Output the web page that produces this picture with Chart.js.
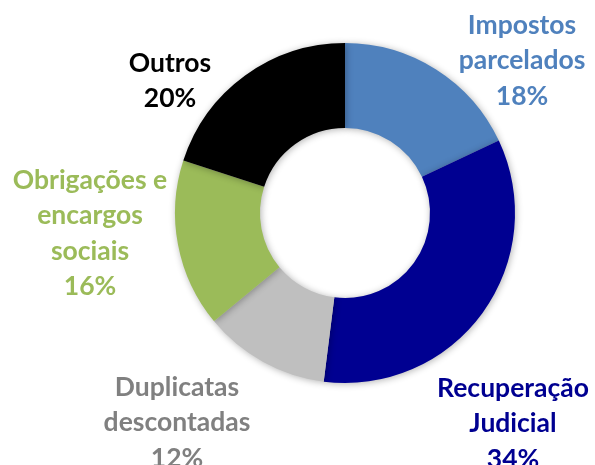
<!DOCTYPE html>
<html>
<head>
<meta charset="utf-8">
<script src="https://cdn.jsdelivr.net/npm/chart.js@4"></script>
<style>
  html, body { margin: 0; padding: 0; background: #fff; }
  #wrap { width: 595px; height: 465px; }
</style>
</head>
<body>
<div id="wrap"><canvas id="chart" width="595" height="465"></canvas></div>
<script>
// data
const categories = ['Impostos parcelados', 'Recuperação Judicial', 'Duplicatas descontadas', 'Obrigações e encargos sociais', 'Outros'];
const shares = [18, 34, 12, 16, 20];

// label text lines and where they sit
const labelLines = [
    ['Impostos', 'parcelados'],
    ['Recuperação', 'Judicial'],
    ['Duplicatas', 'descontadas'],
    ['Obrigações e', 'encargos', 'sociais'],
    ['Outros']
];
const labelPos = [[522, 25], [513, 388], [177, 387], [90, 180], [170, 63]];

const sliceColors = ['#4F81BD', '#000091', '#BFBFBF', '#9BBB59', '#000000'];
const textColors = ['#4F81BD', '#000091', '#808080', '#9BBB59', '#000000'];

const shadowPlugin = {
    id: 'ringShadow',
    beforeDatasetsDraw(chart) {
        const ctx = chart.ctx;
        ctx.save();
        ctx.shadowColor = 'rgba(0,0,0,0.3)';
        ctx.shadowBlur = 7;
        ctx.shadowOffsetX = 1;
        ctx.shadowOffsetY = 1;
    },
    afterDatasetsDraw(chart) {
        chart.ctx.restore();
    }
};

const labelPlugin = {
    id: 'outsideLabels',
    afterDraw(chart) {
        const ctx = chart.ctx;
        ctx.save();
        ctx.font = 'bold 26.5px Lato';
        ctx.textAlign = 'center';
        ctx.textBaseline = 'middle';
        const lineH = 35.5;
        categories.forEach((c, i) => {
            const lines = labelLines[i].concat([shares[i] + '%']);
            ctx.fillStyle = textColors[i];
            lines.forEach((t, j) => {
                ctx.fillText(t, labelPos[i][0], labelPos[i][1] + j * lineH);
            });
        });
        ctx.restore();
    }
};

new Chart(document.getElementById('chart'), {
    type: 'doughnut',
    data: {
        labels: categories,
        datasets: [{
            data: shares,
            backgroundColor: sliceColors,
            borderWidth: 0
        }]
    },
    options: {
        responsive: false,
        animation: false,
        cutout: '50%',
        layout: {
            padding: { left: 175, right: 80, top: 43, bottom: 82 }
        },
        plugins: {
            legend: { display: false },
            tooltip: { enabled: false }
        }
    },
    plugins: [shadowPlugin, labelPlugin]
});
</script>
</body>
</html>
